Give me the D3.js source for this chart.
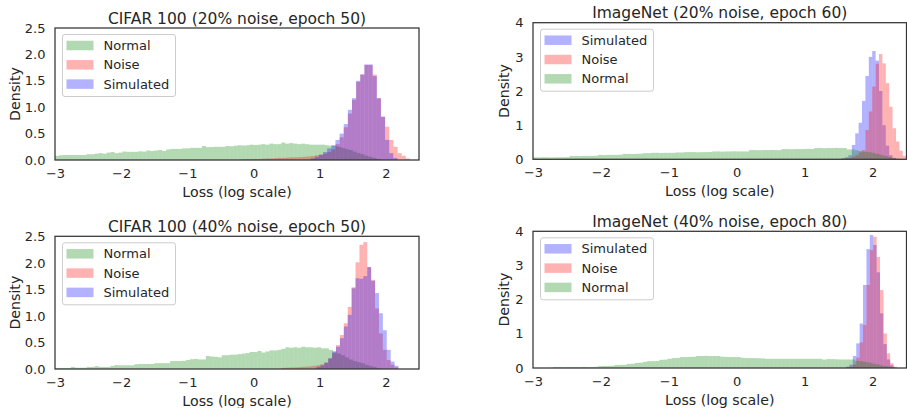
<!DOCTYPE html>
<html>
<head>
<meta charset="utf-8">
<script src="https://cdn.jsdelivr.net/npm/d3@7"></script>
<style>
  body { margin: 0; background: #fff; }
  text { font-family: "DejaVu Sans", sans-serif; fill: #262626; }
</style>
</head>
<body>
<svg id="fig" width="907" height="408"></svg>
<script>
// ---- data (density per bin) ----
var xTicks = [-3, -2, -1, 0, 1, 2]
var cifarYTicks = [0, 0.5, 1, 1.5, 2, 2.5]
var imagenetYTicks = [0, 1, 2, 3, 4]
var titles = ['CIFAR 100 (20% noise, epoch 50)', 'ImageNet (20% noise, epoch 60)',
              'CIFAR 100 (40% noise, epoch 50)', 'ImageNet (40% noise, epoch 80)']

// bins: [first bin start, bin width]
var c20NormalBins = [-3, 0.06]
var c20Normal = [0.08,0.09,0.095,0.095,0.095,0.095,0.095,0.095,0.11,0.11,
  0.12,0.13,0.12,0.14,0.15,0.13,0.14,0.16,0.155,0.155,
  0.155,0.165,0.16,0.18,0.17,0.18,0.19,0.17,0.2,0.21,
  0.21,0.21,0.22,0.22,0.23,0.23,0.23,0.265,0.245,0.245,
  0.25,0.25,0.25,0.265,0.26,0.27,0.28,0.275,0.28,0.29,
  0.285,0.29,0.3,0.29,0.31,0.3,0.3,0.33,0.31,0.32,
  0.31,0.3,0.31,0.3,0.29,0.29,0.29,0.29,0.28,0.27,
  0.27,0.25,0.23,0.21,0.19,0.16,0.13,0.11,0.08,0.06,
  0.04,0.02]
var c20NoiseBins = [-0.2, 0.0625]
var c20Noise = [0.01,0.015,0.015,0.02,0.02,0.025,0.03,0.03,0.035,0.04,
  0.04,0.045,0.05,0.05,0.055,0.06,0.065,0.075,0.09,0.1,
  0.12,0.15,0.2,0.3,0.43,0.62,0.88,1.14,1.48,1.62,
  1.8,1.8,1.62,1.17,0.82,0.63,0.38,0.25,0.13,0.08,0.03]
var c20SimBins = [0.8625, 0.0625]
var c20Sim = [0.03,0.06,0.1,0.15,0.22,0.28,0.38,0.5,0.68,0.95,1.17,1.5,1.62,1.81,1.81,1.59,1.17,0.82,0.38,0.13,0.04]

var i20NormalBins = [-3, 0.06]
var i20Normal = [0.06,0.055,0.06,0.06,0.055,0.06,0.06,0.06,0.065,
  0.1,0.1,0.095,0.1,0.1,0.1,0.105,
  0.13,0.125,0.13,0.13,0.13,0.135,
  0.16,0.16,0.155,0.16,0.165,
  0.18,0.18,
  0.19,0.19,0.185,0.19,0.19,0.19,
  0.2,0.2,
  0.21,0.21,0.21,0.205,0.21,0.21,0.215,
  0.23,0.23,0.225,0.23,0.23,0.235,0.23,0.23,0.23,
  0.27,0.27,0.265,0.27,0.27,0.275,0.27,0.27,
  0.3,0.3,0.295,0.3,0.3,0.3,0.305,0.3,
  0.33,0.33,0.325,0.33,0.33,0.335,0.33,0.33,
  0.29,0.29,0.26,0.24,0.22,0.21,0.19,0.16,0.13,0.1,0.07,0.04,0.02]
var i20SimBins = [1.545, 0.05]
var i20Sim = [0.03,0.06,0.12,0.42,0.76,1.07,1.71,2.44,3.0,3.17,2.89,2.0,1.0,0.4,0.12,0.04]
var i20NoiseBins = [1.545, 0.05]
var i20Noise = [0.02,0.03,0.04,0.08,0.12,0.2,0.27,0.86,1.4,2.13,2.8,3.08,2.81,2.23,1.54,0.91,0.52,0.25,0.1]

var c40NormalBins = [-3, 0.06]
var c40Normal = [0.02,0.02,0.02,0.02,0.04,0.025,0.025,0.025,0.04,0.04,
  0.055,0.04,0.04,0.04,0.06,0.075,0.07,0.07,0.07,0.07,
  0.09,0.095,0.095,0.095,0.095,0.11,0.11,0.11,0.11,0.15,
  0.15,0.15,0.155,0.17,0.185,0.19,0.18,0.18,0.245,0.235,
  0.23,0.22,0.26,0.26,0.27,0.27,0.28,0.29,0.3,0.32,
  0.32,0.34,0.31,0.33,0.35,0.35,0.36,0.38,0.41,0.4,
  0.41,0.4,0.42,0.41,0.41,0.4,0.41,0.39,0.39,0.36,
  0.33,0.29,0.26,0.22,0.18,0.15,0.13,0.11,0.08,0.06,
  0.04,0.02]
var c40NoiseBins = [0.42, 0.059]
var c40Noise = [0.02,0.025,0.03,0.03,0.035,0.04,0.045,0.05,0.06,0.07,0.09,0.12,0.2,
  0.3,0.45,0.64,0.86,1.17,1.54,2.01,2.34,2.39,1.92,1.68,1.14,0.67,0.36,0.17,0.08,0.03]
var c40SimBins = [0.951, 0.059]
var c40Sim = [0.04,0.07,0.12,0.2,0.33,0.42,0.58,0.8,1.02,1.52,1.71,1.7,1.75,1.92,1.66,1.43,1.05,0.73,0.36,0.14,0.06]

var i40NormalBins = [-3, 0.06]
var i40Normal = [0,0,0,0,0.005,
  0.03,0.03,0.025,0.03,0.03,0.03,0.03,0.035,0.03,0.03,0.035,
  0.055,0.06,0.06,0.065,
  0.09,0.09,0.095,
  0.12,0.125,
  0.15,0.155,
  0.18,
  0.2,0.2,0.205,
  0.24,0.245,
  0.27,
  0.29,0.295,
  0.32,0.32,0.325,0.33,
  0.35,0.35,0.355,0.35,0.35,0.35,
  0.33,0.325,0.32,0.32,0.32,
  0.3,0.29,0.29,0.29,0.285,
  0.28,0.27,0.27,0.27,0.27,0.27,0.27,0.27,0.27,0.27,0.27,0.27,0.27,0.27,0.27,
  0.245,0.26,0.26,
  0.255,0.25,0.25,0.25,0.25,
  0.21,0.2,0.18,0.16,0.13,0.11,0.08,0.06,0.04,0.02]
var i40SimBins = [1.61, 0.05]
var i40Sim = [0.04,0.1,0.35,0.72,1.3,2.43,3.48,3.89,3.6,2.8,1.6,0.7,0.25,0.08]
var i40NoiseBins = [1.61, 0.05]
var i40Noise = [0.02,0.04,0.1,0.3,0.75,1.26,2.43,3.45,3.84,3.25,2.28,1.01,0.43,0.14,0.04]

var green = '#008000', red = '#ff0000', blue = '#0000ff'

function series(name, color, bins, values){
  return {name: name, color: color, start: bins[0], width: bins[1], values: values}
}

var panels = [
  {title: titles[0], x0: 55, x1: 419, y0: 28, y1: 160, yMax: 2.5, yTicks: cifarYTicks, fmt: d3.format('.1f'), ylab: 40,
   series: [series('Normal', green, c20NormalBins, c20Normal), series('Noise', red, c20NoiseBins, c20Noise), series('Simulated', blue, c20SimBins, c20Sim)]},
  {title: titles[1], x0: 533, x1: 906.5, y0: 22.7, y1: 159.3, yMax: 4, yTicks: imagenetYTicks, fmt: d3.format('d'), ylab: 29,
   series: [series('Simulated', blue, i20SimBins, i20Sim), series('Noise', red, i20NoiseBins, i20Noise), series('Normal', green, i20NormalBins, i20Normal)]},
  {title: titles[2], x0: 55, x1: 419, y0: 236.3, y1: 369, yMax: 2.5, yTicks: cifarYTicks, fmt: d3.format('.1f'), ylab: 40,
   series: [series('Normal', green, c40NormalBins, c40Normal), series('Noise', red, c40NoiseBins, c40Noise), series('Simulated', blue, c40SimBins, c40Sim)]},
  {title: titles[3], x0: 533, x1: 906.5, y0: 231.3, y1: 368, yMax: 4, yTicks: imagenetYTicks, fmt: d3.format('d'), ylab: 29,
   series: [series('Simulated', blue, i40SimBins, i40Sim), series('Noise', red, i40NoiseBins, i40Noise), series('Normal', green, i40NormalBins, i40Normal)]}
]

var svg = d3.select('#fig')
var defs = svg.append('defs')

panels.forEach(function(p, pi){
  var x = d3.scaleLinear().domain([-3, 2.5]).range([p.x0, p.x1])
  var y = d3.scaleLinear().domain([0, p.yMax]).range([p.y1, p.y0])

  defs.append('clipPath').attr('id', 'clip' + pi)
    .append('rect')
    .attr('x', p.x0).attr('y', p.y0)
    .attr('width', p.x1 - p.x0).attr('height', p.y1 - p.y0)

  var g = svg.append('g')

  // histograms
  var bars = g.append('g').attr('clip-path', 'url(#clip' + pi + ')')
  p.series.forEach(function(s){
    bars.append('g').selectAll('rect').data(s.values)
      .enter().append('rect')
      .attr('x', function(d, i){ return x(s.start + i * s.width) })
      .attr('width', function(d, i){ return x(s.start + (i + 1) * s.width) - x(s.start + i * s.width) })
      .attr('y', function(d){ return y(d) })
      .attr('height', function(d){ return y(0) - y(d) })
      .attr('fill', s.color)
      .attr('fill-opacity', 0.3)
  })

  // axes (no tick marks, seaborn white style)
  var xa = g.append('g').attr('transform', 'translate(0,' + p.y1 + ')')
    .call(d3.axisBottom(x).tickValues(xTicks).tickSize(0).tickPadding(8.5).tickFormat(d3.format('d')))
  var ya = g.append('g').attr('transform', 'translate(' + p.x0 + ',0)')
    .call(d3.axisLeft(y).tickValues(p.yTicks).tickSize(0).tickPadding(9.5).tickFormat(p.fmt))
  ;[xa, ya].forEach(function(a){
    a.select('.domain').remove()
    a.attr('font-family', null).attr('font-size', null)
    a.selectAll('text').style('font-size', '13px').attr('fill', '#262626')
  })

  // frame
  g.append('rect')
    .attr('x', p.x0).attr('y', p.y0)
    .attr('width', p.x1 - p.x0).attr('height', p.y1 - p.y0)
    .attr('fill', 'none').attr('stroke', '#333').attr('stroke-width', 1.25)

  // title and labels
  g.append('text').attr('x', (p.x0 + p.x1) / 2).attr('y', p.y0 - 4.5)
    .attr('text-anchor', 'middle').style('font-size', '15.5px').text(p.title)
  g.append('text').attr('x', (p.x0 + p.x1) / 2).attr('y', p.y1 + 36.5)
    .attr('text-anchor', 'middle').style('font-size', '14.2px').text('Loss (log scale)')
  g.append('text')
    .attr('transform', 'translate(' + (p.x0 - p.ylab) + ',' + (p.y0 + p.y1) / 2 + ') rotate(-90)')
    .attr('text-anchor', 'middle').attr('dy', '0.35em').style('font-size', '14.2px').text('Density')

  // legend
  var lg = g.append('g').attr('transform', 'translate(' + (p.x0 + 7.5) + ',' + (p.y0 + 6.5) + ')')
  lg.append('rect').attr('width', 113).attr('height', 62).attr('rx', 2.5)
    .attr('fill', 'white').attr('fill-opacity', 0.8)
    .attr('stroke', '#cccccc').attr('stroke-width', 1)
  var rows = lg.selectAll('.row').data(p.series).enter().append('g')
    .attr('class', 'row')
    .attr('transform', function(d, i){ return 'translate(0,' + (11 + i * 19.3) + ')' })
  rows.append('rect').attr('x', 4).attr('y', -4.75).attr('width', 27).attr('height', 9.5)
    .attr('fill', function(d){ return d.color }).attr('fill-opacity', 0.3)
  rows.append('text').attr('x', 41).attr('dy', '0.35em').style('font-size', '13px')
    .text(function(d){ return d.name })
})
</script>
</body>
</html>
